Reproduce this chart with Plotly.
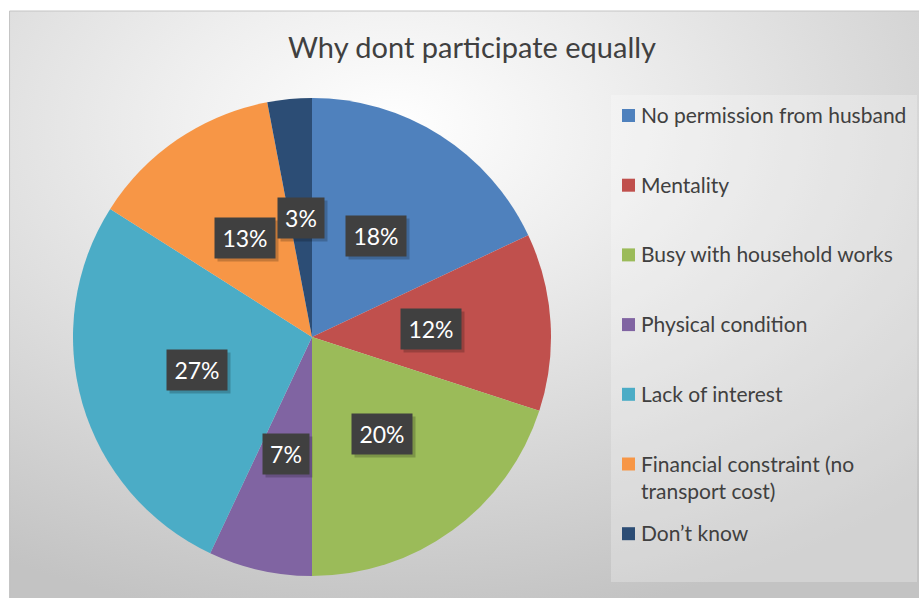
import base64
import math
import plotly.graph_objects as go

# ---- data ----
labels = [
    "No permission from husband",
    "Mentality",
    "Busy with household works",
    "Physical condition",
    "Lack of interest",
    "Financial constraint (no<br>transport cost)",
    "Don\u2019t know",
]
values = [18, 12, 20, 7, 27, 13, 3]
colors = ["#4F81BD", "#C0504D", "#9BBB59", "#8064A2", "#4BACC6", "#F79646", "#2C4D75"]
title_text = "Why dont participate equally"

W, H = 919, 598
FONT = "Lato, 'Open Sans', Arial, sans-serif"

# pie geometry (layout)
dom_x = [73 / W, 551 / W]
dom_y = [1 - 576 / H, 1 - 98 / H]

fig = go.Figure()
fig.add_trace(go.Pie(
    labels=[l.replace("<br>", " ") for l in labels],
    values=values,
    marker=dict(colors=colors, line=dict(width=0)),
    sort=False,
    direction="clockwise",
    rotation=0,
    textinfo="none",
    hoverinfo="label+percent",
    showlegend=False,
    domain=dict(x=dom_x, y=dom_y),
))

# background radial gradient
svg = ('<svg xmlns="http://www.w3.org/2000/svg" width="909" height="587" preserveAspectRatio="none">'
       '<defs><radialGradient id="g" cx="42%" cy="20%" r="85%">'
       '<stop offset="0" stop-color="#ffffff"/><stop offset="0.3" stop-color="#eeeeee"/>'
       '<stop offset="1" stop-color="#c3c3c3"/></radialGradient></defs>'
       '<rect width="909" height="587" fill="url(#g)"/></svg>')
src = "data:image/svg+xml;base64," + base64.b64encode(svg.encode()).decode()

x0p, y0p = 10, 11
fig.add_layout_image(dict(
    source=src, xref="paper", yref="paper",
    x=x0p / W, y=1 - y0p / H, sizex=(W - x0p) / W, sizey=(H - y0p) / H,
    xanchor="left", yanchor="top", sizing="stretch", layer="below",
))

shapes = [
    dict(type="rect", xref="paper", yref="paper", x0=x0p / W - 0.0005, x1=1.01,
         y0=-0.01, y1=1 - y0p / H, line=dict(color="#c4c4c4", width=1), fillcolor="rgba(0,0,0,0)",
         layer="above"),
    # legend box
    dict(type="rect", xref="paper", yref="paper", x0=611 / W, x1=917 / W,
         y0=1 - 582 / H, y1=1 - 95 / H, line=dict(width=0),
         fillcolor="rgba(255,255,255,0.25)", layer="below"),
]

annotations = []

# data labels in dark boxes
cx = (dom_x[0] + dom_x[1]) / 2 * W
cy = (1 - (dom_y[0] + dom_y[1]) / 2) * H
r = min((dom_x[1] - dom_x[0]) * W, (dom_y[1] - dom_y[0]) * H) / 2
total = sum(values)
cum = 0
for v in values:
    mid = (cum + v / 2) / total * 2 * math.pi
    cum += v
    px = cx + 0.5 * r * math.sin(mid)
    py = cy - 0.5 * r * math.cos(mid)
    txt = f"{v}%"
    wbox = 14 * len(txt) + 6
    common = dict(x=px / W, y=1 - py / H, xref="paper", yref="paper",
                  showarrow=False, xanchor="center", yanchor="middle",
                  borderpad=6, width=wbox)
    # shadow box (no text)
    annotations.append(dict(common, text="\u00a0", font=dict(family=FONT, size=23, color="rgba(0,0,0,0)"),
                            bgcolor="rgba(0,0,0,0.2)", xshift=3, yshift=-3))
    annotations.append(dict(common, text=txt, font=dict(family=FONT, size=23, color="#ffffff"),
                            bgcolor="#404040"))

# manual legend
for i, (lab, col) in enumerate(zip(labels, colors)):
    yc = 115.5 + i * 69.7
    shapes.append(dict(type="rect", xref="paper", yref="paper",
                       x0=622 / W, x1=635 / W, y0=1 - (yc + 6.5) / H, y1=1 - (yc - 6.5) / H,
                       fillcolor=col, line=dict(width=0)))
    annotations.append(dict(
        x=640 / W, y=1 - (yc - 14.5) / H, xref="paper", yref="paper", text=lab,
        showarrow=False, xanchor="left", yanchor="top", align="left",
        font=dict(family=FONT, size=21, color="#404040"), borderpad=0,
    ))

fig.update_layout(
    width=W, height=H,
    margin=dict(l=0, r=0, t=0, b=0),
    paper_bgcolor="#ffffff",
    plot_bgcolor="rgba(0,0,0,0)",
    title=dict(text=title_text, x=472 / W, y=1 - 48 / H, xanchor="center", yanchor="middle",
               font=dict(family=FONT, size=29, color="#404040")),
    shapes=shapes,
    annotations=annotations,
)

fig.write_html("out.html", config={"displayModeBar": False},
               post_script="document.body.style.margin='0';document.body.style.overflow='hidden';")
